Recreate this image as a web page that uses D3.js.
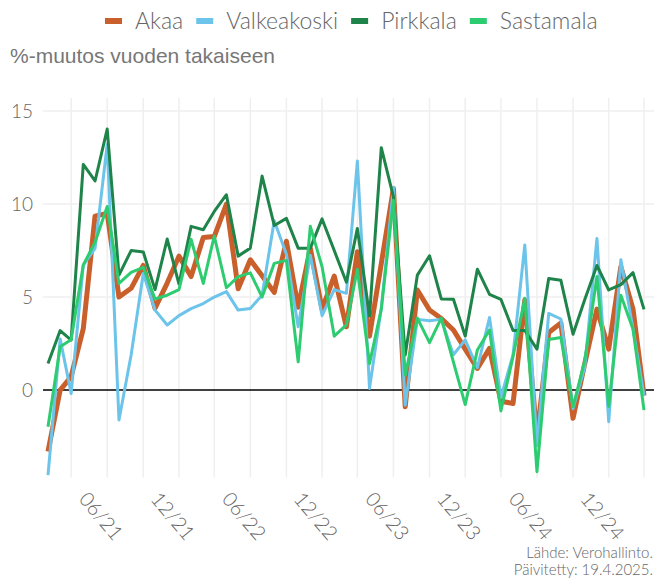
<!DOCTYPE html>
<html>
<head>
<meta charset="utf-8">
<script src="https://cdn.jsdelivr.net/npm/d3@7"></script>
<style>
  html, body { margin: 0; padding: 0; background: #fff; }
  svg { display: block; }
</style>
</head>
<body>
<svg id="chart" width="654" height="579"></svg>
<script>
// monthly % change vs. a year earlier, Jan 2021 - Mar 2025
const firstMonth = new Date(2021, 0, 1);
const lastMonth = new Date(2025, 2, 1);
const months = d3.timeMonth.range(firstMonth, d3.timeMonth.offset(lastMonth, 1));

const seriesNames = ["Akaa", "Valkeakoski", "Pirkkala", "Sastamala"];
const seriesColors = ["#c95f2a", "#6cc4ea", "#1e8449", "#2ecc71"];
const seriesWidths = [5, 3, 3, 3];

const akaa = [-3.3, 0.0, 0.72, 3.3, 9.35, 9.5, 5.0, 5.47, 6.7, 4.4,
  5.75, 7.2, 6.1, 8.2, 8.25, 10.0, 5.45, 7.0, 6.15, 5.25,
  8.0, 4.45, 7.63, 4.35, 6.13, 3.4, 7.44, 2.9, 6.8, 10.84,
  -0.9, 5.38, 4.3, 3.85, 3.23, 2.2, 1.16, 2.24, -0.6, -0.72,
  4.84, -2.5, 3.1, 3.6, -1.52, 1.43, 4.35, 2.2, 6.63, 4.35, -0.3];
const valkeakoski = [-4.57, 2.75, -0.18, 6.72, 7.62, 13.2, -1.61, 1.88, 6.27, 4.3,
  3.5, 4.0, 4.38, 4.65, 5.0, 5.29, 4.3, 4.39, 5.1, 9.1,
  7.3, 3.4, 7.25, 4.0, 5.4, 5.2, 12.31, 0.09, 4.4, 10.9,
  -0.81, 3.8, 3.73, 3.8, 1.9, 2.7, 1.2, 3.9, -0.4, 1.9,
  7.8, -3.0, 4.12, 3.82, -1.0, 1.25, 8.15, -1.7, 7.0, 3.3, -0.3];
const pirkkala = [1.43, 3.2, 2.69, 12.13, 11.24, 14.03, 6.18, 7.5, 7.42, 5.4,
  8.12, 5.7, 8.8, 8.62, 9.6, 10.5, 7.2, 7.63, 11.5, 8.85,
  9.23, 7.63, 7.63, 9.2, 7.5, 5.8, 8.69, 3.98, 13.03, 10.39,
  1.88, 6.18, 7.22, 4.9, 4.88, 2.9, 6.5, 5.14, 4.88, 3.2,
  3.2, 2.2, 6.0, 5.9, 3.0, 4.87, 6.7, 5.38, 5.67, 6.31, 4.34];
const sastamala = [-1.97, 2.33, 2.7, 6.72, 7.95, 9.87, 5.73, 6.33, 6.6, 4.9,
  5.1, 5.4, 8.1, 5.73, 8.28, 5.5, 6.1, 6.3, 5.0, 6.81,
  6.97, 1.52, 8.8, 6.63, 2.9, 3.5, 6.49, 1.42, 4.35, 10.2,
  0.8, 3.87, 2.55, 3.87, 1.5, -0.78, 2.15, 3.23, -1.12, 1.8,
  4.93, -4.39, 2.72, 2.82, -0.9, 1.6, 6.1, -0.88, 5.1, 3.27, -1.08];

const yTicks = [0, 5, 10, 15];
const yTitle = "%-muutos vuoden takaiseen";
const sourceLines = ["Lähde: Verohallinto.", "Päivitetty: 19.4.2025."];

const seriesValues = [akaa, valkeakoski, pirkkala, sastamala];

var svg = d3.select("#chart");
var panel = { left: 43, right: 654, top: 98, bottom: 477.5 };

var x = d3.scaleTime().domain([firstMonth, lastMonth]).range([48, 644]);
var y = d3.scaleLinear().domain([-4.7, 15.7]).range([panel.bottom, panel.top]);

// grid: lines every 3 months (Mar/Jun/Sep/Dec), labels on Jun and Dec
var gridMonths = d3.timeMonth.range(new Date(2021, 2, 1), d3.timeMonth.offset(lastMonth, 1), 3);
var labelMonths = gridMonths.filter(d => d.getMonth() === 5 || d.getMonth() === 11);

var grid = svg.append("g").attr("class", "grid");
grid.selectAll("line.v").data(gridMonths).join("line")
  .attr("class", "v")
  .attr("x1", d => x(d)).attr("x2", d => x(d))
  .attr("y1", panel.top).attr("y2", panel.bottom)
  .attr("stroke", "#efefef").attr("stroke-width", 1.5);
grid.selectAll("line.h").data(yTicks.filter(d => d !== 0)).join("line")
  .attr("class", "h")
  .attr("x1", panel.left).attr("x2", panel.right)
  .attr("y1", d => y(d)).attr("y2", d => y(d))
  .attr("stroke", "#efefef").attr("stroke-width", 1.5);

// y axis labels
svg.append("g").selectAll("text").data(yTicks).join("text")
  .attr("x", 33).attr("y", d => y(d))
  .attr("dy", "0.36em")
  .attr("text-anchor", "end")
  .style("font-family", "Lato").style("font-weight", 300)
  .style("font-size", "19px").attr("fill", "#666")
  .text(d => d);

// x axis labels, rotated
var fmt = d3.timeFormat("%m/%y");
svg.append("g").selectAll("text").data(labelMonths).join("text")
  .attr("transform", d => "translate(" + (x(d) - 6) + ",516) rotate(50)")
  .attr("text-anchor", "middle")
  .attr("dy", "0.36em")
  .style("font-family", "Lato").style("font-weight", 300)
  .style("font-size", "20px").attr("fill", "#666")
  .text(d => fmt(d));

// zero line
svg.append("line")
  .attr("x1", panel.left).attr("x2", panel.right)
  .attr("y1", y(0)).attr("y2", y(0))
  .attr("stroke", "#000").attr("stroke-width", 1.5);

// series
var line = d3.line()
  .x((d, i) => x(months[i]))
  .y(d => y(d));

svg.append("g").selectAll("path").data(seriesValues).join("path")
  .attr("d", d => line(d))
  .attr("fill", "none")
  .attr("stroke", (d, i) => seriesColors[i])
  .attr("stroke-width", (d, i) => seriesWidths[i])
  .attr("stroke-linejoin", "round");

// y title
svg.append("text")
  .attr("x", 10).attr("y", 63)
  .style("font-family", "Liberation Sans, Arial, sans-serif")
  .style("font-size", "21px").attr("fill", "#777")
  .text(yTitle);

// legend
var legend = svg.append("g");
var lx = 105;
seriesNames.forEach(function(name, i) {
  legend.append("rect")
    .attr("x", lx).attr("y", 18)
    .attr("width", 17).attr("height", 6)
    .attr("fill", seriesColors[i]);
  var t = legend.append("text")
    .attr("x", lx + 30).attr("y", 21)
    .attr("dy", "0.36em")
    .style("font-family", "Lato").style("font-weight", 300)
    .style("font-size", "23px").attr("fill", "#666")
    .text(name);
  lx += 30 + t.node().getComputedTextLength() + 13;
});

// source
svg.append("g").selectAll("text").data(sourceLines).join("text")
  .attr("x", 653).attr("y", (d, i) => 558 + i * 17)
  .attr("text-anchor", "end")
  .style("font-family", "Lato").style("font-weight", 300)
  .style("font-size", "15px").attr("fill", "#666")
  .text(d => d);
</script>
</body>
</html>
